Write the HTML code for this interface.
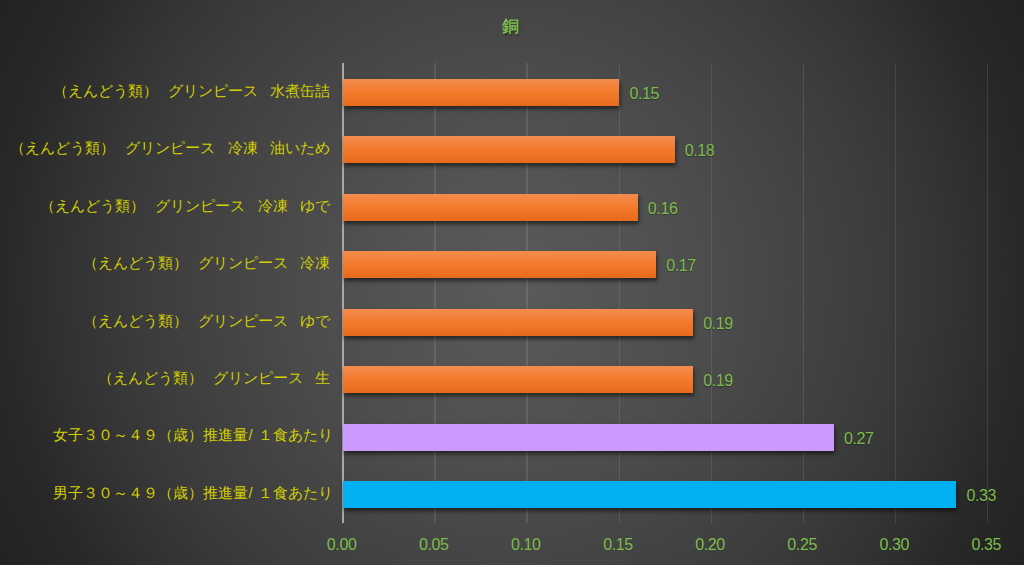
<!DOCTYPE html>
<html lang="ja"><head><meta charset="utf-8"><style>
html,body{margin:0;padding:0;}
body{width:1024px;height:565px;overflow:hidden;position:relative;font-family:"Liberation Sans",sans-serif;
background:radial-gradient(circle 586px at 512px 282px, #5b5b5b 0.0px, #575757 51.2px, #545454 102.4px, #505050 153.6px, #4c4c4c 204.8px, #474747 256.0px, #424242 307.2px, #3d3d3d 358.4px, #373737 409.6px, #303030 460.8px, #282828 512.0px, #222222 586px);}
.t{position:absolute;left:0;width:1020px;top:15px;text-align:center;font-size:17px;font-weight:500;-webkit-text-stroke:0.3px #84c850;color:#84c850;text-shadow:1px 2px 2px rgba(0,0,0,0.45);line-height:24px}
.g{position:absolute;top:63px;height:460px;width:1.6px;background:rgba(255,255,255,0.10);}
.ax{position:absolute;top:63px;height:460px;width:2px;background:#a8a8a8;}
.bar{position:absolute;left:343.3px;height:27px;box-shadow:1px 3px 4px rgba(0,0,0,0.55);}
.o{background:linear-gradient(#f48c4e,#f37a2c 50%,#e86a1c);}
.p{background:#cc99ff;}
.b{background:#00b0f0;}
.vl{position:absolute;font-size:16px;letter-spacing:-0.4px;line-height:18px;color:#7cbc4a;white-space:nowrap;text-shadow:0 1px 1px rgba(0,0,0,0.3)}
.sp{letter-spacing:-2.5px} .rp{letter-spacing:-2.5px} .sl{display:inline-block;width:5px} .cl.c7{right:691.5px}
.cl{position:absolute;right:694px;font-size:14.67px;line-height:20px;color:#d4d000;white-space:nowrap;text-align:right}
.tl{position:absolute;top:536px;width:80px;text-align:center;font-size:16px;letter-spacing:-0.4px;line-height:18px;color:#7cbc4a}
</style></head><body>
<div class="t">銅</div>
<div class="g" style="left:434.30px"></div>
<div class="g" style="left:526.40px"></div>
<div class="g" style="left:618.50px"></div>
<div class="g" style="left:710.60px"></div>
<div class="g" style="left:802.70px"></div>
<div class="g" style="left:894.80px"></div>
<div class="g" style="left:986.90px"></div>
<div class="ax" style="left:342.3px"></div>
<div class="bar o" style="top:79.00px;width:276.05px"></div>
<div class="vl" style="top:85.00px;left:629.45px">0.15</div>
<div class="cl" style="top:80.70px">（えんどう類<span class=rp>）</span><span class=sp>　</span>グリンピース<span class=sp>　</span>水煮缶詰</div>
<div class="bar o" style="top:136.45px;width:331.31px"></div>
<div class="vl" style="top:142.45px;left:684.71px">0.18</div>
<div class="cl" style="top:138.15px">（えんどう類<span class=rp>）</span><span class=sp>　</span>グリンピース<span class=sp>　</span>冷凍<span class=sp>　</span>油いため</div>
<div class="bar o" style="top:193.90px;width:294.47px"></div>
<div class="vl" style="top:199.90px;left:647.87px">0.16</div>
<div class="cl" style="top:195.60px">（えんどう類<span class=rp>）</span><span class=sp>　</span>グリンピース<span class=sp>　</span>冷凍<span class=sp>　</span>ゆで</div>
<div class="bar o" style="top:251.35px;width:312.89px"></div>
<div class="vl" style="top:257.35px;left:666.29px">0.17</div>
<div class="cl" style="top:253.05px">（えんどう類<span class=rp>）</span><span class=sp>　</span>グリンピース<span class=sp>　</span>冷凍</div>
<div class="bar o" style="top:308.80px;width:349.73px"></div>
<div class="vl" style="top:314.80px;left:703.13px">0.19</div>
<div class="cl" style="top:310.50px">（えんどう類<span class=rp>）</span><span class=sp>　</span>グリンピース<span class=sp>　</span>ゆで</div>
<div class="bar o" style="top:366.25px;width:349.73px"></div>
<div class="vl" style="top:372.25px;left:703.13px">0.19</div>
<div class="cl" style="top:367.95px">（えんどう類<span class=rp>）</span><span class=sp>　</span>グリンピース<span class=sp>　</span>生</div>
<div class="bar p" style="top:423.70px;width:490.64px"></div>
<div class="vl" style="top:429.70px;left:844.04px">0.27</div>
<div class="cl c7" style="top:425.40px">女子３０～４９（歳）推進量/<span class=sl></span>１食あたり</div>
<div class="bar b" style="top:481.15px;width:613.14px"></div>
<div class="vl" style="top:487.15px;left:966.54px">0.33</div>
<div class="cl c7" style="top:482.85px">男子３０～４９（歳）推進量/<span class=sl></span>１食あたり</div>
<div class="tl" style="left:301.65px">0.00</div>
<div class="tl" style="left:393.75px">0.05</div>
<div class="tl" style="left:485.85px">0.10</div>
<div class="tl" style="left:577.95px">0.15</div>
<div class="tl" style="left:670.05px">0.20</div>
<div class="tl" style="left:762.15px">0.25</div>
<div class="tl" style="left:854.25px">0.30</div>
<div class="tl" style="left:946.35px">0.35</div>
</body></html>
